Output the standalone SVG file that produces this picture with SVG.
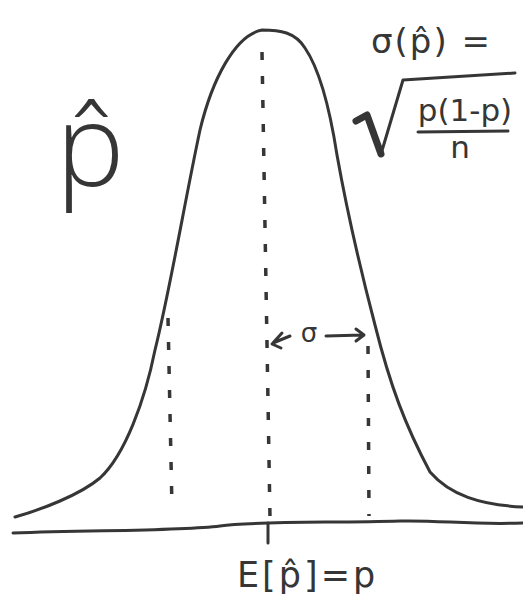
<svg xmlns="http://www.w3.org/2000/svg" width="523" height="601" viewBox="0 0 523 601">
<style>
.ink{fill:none;stroke:#363636;stroke-linecap:round;stroke-linejoin:round}
.curve{stroke-width:3}
.dash{stroke-width:3.5;stroke-dasharray:8 16;stroke-linecap:butt}
.t{fill:#363636;font-family:"DejaVu Sans","Noto Sans",sans-serif}
</style>
<rect width="523" height="601" fill="#ffffff"/>
<g id="axis">
<path class="ink curve" d="M13,533 C100,530 180,531 220,526 C255,521 330,523 400,521 C440,520 470,525 523,523"/>
<path class="ink curve" d="M268,523 L268,543"/>
</g>
<g id="bell-curve">
<path class="ink curve" d="M15,517 C40,510 80,495 100,478 C125,455 145,400 155,350 C170,290 185,200 200,130 C212,80 235,35 262,30 C280,30 295,32 305,48 C320,70 330,110 337,155 C345,200 358,260 375,325 C390,385 405,425 430,472 C450,495 480,505 523,507"/>
</g>
<g id="connectors">
<path class="ink dash" d="M262,52 L270,518"/>
<path class="ink dash" d="M168,318 L172,508"/>
<path class="ink dash" d="M368,346 L369,516"/>
</g>
<g id="sigma-arrow">
<path class="ink" stroke-width="3" d="M282,333 L272,344 L281,348 M273,343 L290,336"/>
<path class="ink" stroke-width="3" d="M326,336 L363,335 M356,329 L364,335 L356,341"/>
<text class="t" x="309" y="342" font-size="26" text-anchor="middle">σ</text>
</g>
<g id="p-hat-label">
<text x="56" y="186" font-size="115" font-weight="300" fill="#363636" font-family="'Open Sans','DejaVu Sans',sans-serif">p̂</text>
</g>
<g id="sd-formula">
<text class="t" x="371" y="53" font-size="34" letter-spacing="2">σ(p̂) =</text>
<path class="ink" stroke-width="7" d="M356,121 L367,115 L381,154"/>
<path class="ink" stroke-width="3" d="M381,154 L403,80 L515,73"/>
<text class="t" x="465" y="121" font-size="31" text-anchor="middle">p(1-p)</text>
<path class="ink" stroke-width="3" d="M418,132 L508,131"/>
<text class="t" x="460" y="158" font-size="31" text-anchor="middle">n</text>
</g>
<g id="expectation-label">
<text class="t" x="237" y="587" font-size="35" letter-spacing="3">E[p̂]=p</text>
</g>
</svg>
